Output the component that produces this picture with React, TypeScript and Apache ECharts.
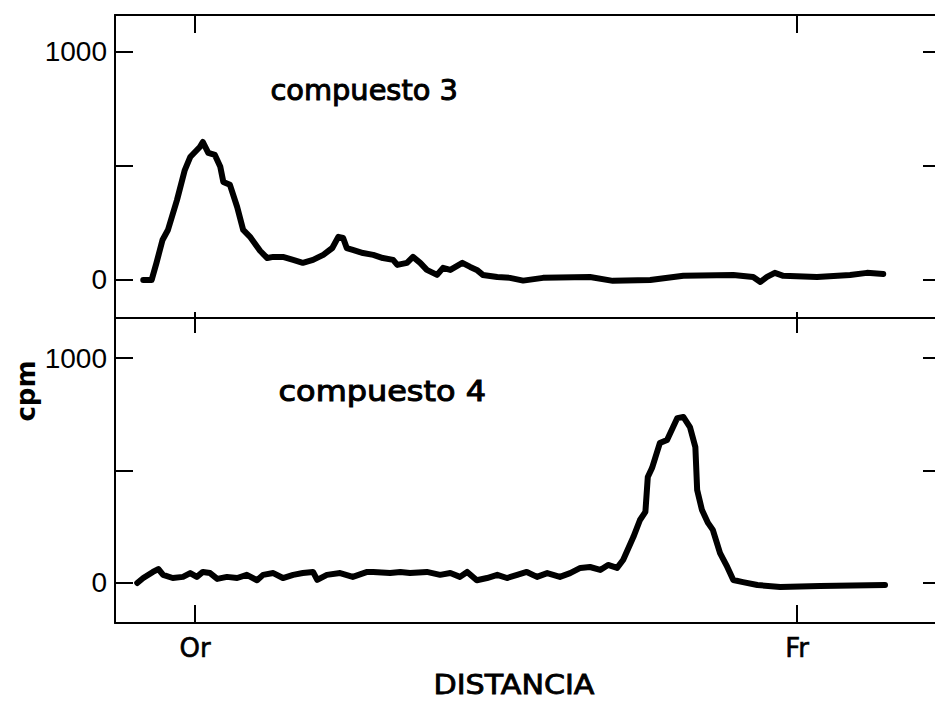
import React, { useEffect, useRef } from "react";
import * as echarts from "echarts";

// x: distance scale, Or = 0, Fr = 100
const xTicks = [0, 100];
const xTickLabels = ["Or", "Fr"];
const yTicks = [0, 500, 1000];
const yLabelTicks = [0, 1000];

const panelTitles = ["compuesto 3", "compuesto 4"];
const xAxisTitle = "DISTANCIA";
const yAxisTitle = "cpm";

// compuesto 3 (top panel)
const c3X = [-8.6, -7.2, -6.4, -5.4, -4.5, -3.0, -1.7, -0.8, 0.8, 1.3, 2.2, 3.3, 4.2, 4.7, 5.8, 7.0, 8.0, 9.1, 10.8, 12.0, 13.0, 14.6, 16.3, 17.9, 19.6, 21.3, 22.8, 23.8, 24.6, 25.2, 26.2, 27.9, 29.6, 31.2, 32.9, 33.6, 35.2, 36.2, 37.4, 38.5, 40.2, 41.2, 42.4, 44.4, 45.7, 46.8, 47.8, 50.2, 52.3, 54.5, 57.8, 65.6, 69.4, 75.6, 81.1, 89.4, 92.7, 93.9, 95.0, 96.3, 97.7, 103.3, 108.8, 111.6, 114.3];
const c3Y = [0, 0, 75, 175, 219, 350, 482, 539, 583, 605, 557, 548, 496, 430, 417, 320, 219, 190, 128, 96, 101, 101, 88, 75, 88, 110, 140, 189, 184, 140, 132, 118, 110, 96, 88, 66, 75, 101, 75, 44, 22, 53, 44, 75, 57, 44, 22, 13, 9, -3, 9, 13, -4, 0, 18, 22, 13, -9, 13, 31, 18, 13, 22, 31, 26];

// compuesto 4 (bottom panel)
const c4X = [-9.6, -8.6, -7.0, -6.1, -5.3, -3.7, -2.0, -0.8, 0.3, 1.3, 2.5, 3.7, 5.3, 7.0, 8.6, 10.3, 11.3, 13.0, 14.6, 16.3, 17.9, 19.6, 20.3, 21.9, 24.1, 26.2, 28.6, 29.6, 32.4, 34.1, 35.7, 38.5, 40.7, 42.4, 44.0, 45.2, 46.8, 48.5, 50.2, 51.8, 53.5, 55.1, 56.8, 58.5, 60.6, 62.3, 64.0, 65.6, 67.3, 68.6, 70.1, 71.1, 72.8, 73.9, 74.8, 75.2, 75.9, 77.2, 78.4, 80.1, 81.1, 82.2, 83.1, 83.4, 84.2, 85.2, 86.0, 87.2, 88.4, 89.4, 91.0, 93.4, 97.2, 103.8, 114.6];
const c4Y = [0, 22, 49, 62, 36, 22, 27, 44, 27, 49, 44, 18, 27, 22, 36, 12, 36, 44, 22, 36, 44, 49, 14, 36, 44, 27, 49, 49, 44, 49, 44, 49, 36, 44, 27, 49, 12, 22, 36, 22, 36, 49, 27, 44, 27, 44, 67, 71, 58, 80, 67, 102, 204, 280, 316, 471, 511, 622, 636, 733, 738, 693, 604, 413, 324, 267, 236, 133, 71, 13, 4, -9, -18, -13, -9];

const X_MIN = -13.29;
const X_MAX = 122.9;
const Y1_MIN = -167;
const Y1_MAX = 1162;
const Y2_MIN = -178;
const Y2_MAX = 1178;

const FONT = "DejaVu Sans";
const NUMFONT = "Liberation Sans";
const PLOT_W = 820;

export default function App() {
  const ref = useRef<HTMLDivElement>(null);
  useEffect(() => {
    if (!ref.current) return;
    const chart = echarts.init(ref.current, undefined, { renderer: "svg" });
    const line = { color: "#000", width: 2 };
    const mkX = (grid: number, pos: string, len: number, labels: boolean) => ({
      type: "value",
      gridIndex: grid,
      position: pos,
      min: X_MIN,
      max: X_MAX,
      axisLine: { show: true, onZero: false, lineStyle: line },
      axisTick: { show: true, inside: true, length: len, customValues: xTicks, lineStyle: line },
      axisLabel: labels
        ? {
            show: true,
            customValues: xTicks,
            formatter: (v: number) => xTickLabels[xTicks.indexOf(v)] ?? "",
            color: "#000",
            fontFamily: FONT,
            fontSize: 26,
            margin: 12,
            textBorderColor: "#000",
            textBorderWidth: 0.6,
          }
        : { show: false },
      splitLine: { show: false },
    });
    // main left axis: line + labels
    const yMain = (grid: number, min: number, max: number) => ({
      type: "value",
      gridIndex: grid,
      position: "left",
      min,
      max,
      axisLine: { show: true, onZero: false, lineStyle: line },
      axisTick: { show: false },
      axisLabel: {
        show: true,
        customValues: yLabelTicks,
        formatter: (v: number) => String(v),
        color: "#000",
        fontFamily: NUMFONT,
        fontSize: 28,
        margin: 8,
      },
      splitLine: { show: false },
    });
    // tick-only axes (left-side inward ticks via a right axis shifted to the left edge)
    const yTicksOnly = (grid: number, min: number, max: number, offset: number, inside: boolean, len: number) => ({
      type: "value",
      gridIndex: grid,
      position: "right",
      offset,
      min,
      max,
      axisLine: { show: false, onZero: false },
      axisTick: { show: true, inside, length: len, customValues: yTicks, lineStyle: line },
      axisLabel: { show: false },
      splitLine: { show: false },
    });
    const lineSeries = (xs: number[], ys: number[], xi: number, yi: number) => ({
      type: "line",
      xAxisIndex: xi,
      yAxisIndex: yi,
      data: xs.map((x, i) => [x, ys[i]]),
      showSymbol: false,
      symbol: "none",
      lineStyle: { color: "#000", width: 6, join: "round", cap: "round" },
      itemStyle: { color: "#000" },
    });
    const txt = (text: string, size: number, stroke: number) => ({
      text,
      fill: "#000",
      stroke: "#000",
      lineWidth: stroke,
      font: `${size}px ${FONT}`,
    });
    chart.setOption({
      animation: false,
      backgroundColor: "#fff",
      grid: [
        { left: 115, top: 15, right: 0, height: 303, outerBoundsMode: "none" },
        { left: 115, top: 318, right: 0, height: 305, outerBoundsMode: "none" },
      ],
      xAxis: [
        mkX(0, "top", 18, false),
        mkX(0, "bottom", 6, false),
        mkX(1, "top", 15, false),
        mkX(1, "bottom", 18, true),
      ],
      yAxis: [
        yMain(0, Y1_MIN, Y1_MAX),
        yTicksOnly(0, Y1_MIN, Y1_MAX, 0, true, 12),
        yTicksOnly(0, Y1_MIN, Y1_MAX, -PLOT_W, false, 18),
        yMain(1, Y2_MIN, Y2_MAX),
        yTicksOnly(1, Y2_MIN, Y2_MAX, 0, true, 12),
        yTicksOnly(1, Y2_MIN, Y2_MAX, -PLOT_W, false, 18),
      ],
      series: [lineSeries(c3X, c3Y, 1, 0), lineSeries(c4X, c4Y, 3, 3)],
      graphic: [
        {
          type: "text",
          left: 270,
          top: 76,
          scaleX: 1.03,
          style: txt(panelTitles[0], 28, 1),
        },
        {
          type: "text",
          left: 278,
          top: 377,
          scaleX: 1.14,
          style: txt(panelTitles[1], 28, 1),
        },
        {
          type: "text",
          left: 433,
          top: 672,
          scaleX: 1.16,
          style: txt(xAxisTitle, 26, 0.8),
        },
        {
          type: "text",
          x: 26,
          y: 391,
          rotation: Math.PI / 2,
          style: {
            text: yAxisTitle,
            fill: "#000",
            font: `bold 26px ${FONT}`,
            align: "center",
            verticalAlign: "middle",
          },
        },
      ],
    });
    return () => chart.dispose();
  }, []);
  return (
    <div
      ref={ref}
      style={{ position: "fixed", left: 0, top: 0, width: 935, height: 701, background: "#fff" }}
    />
  );
}
